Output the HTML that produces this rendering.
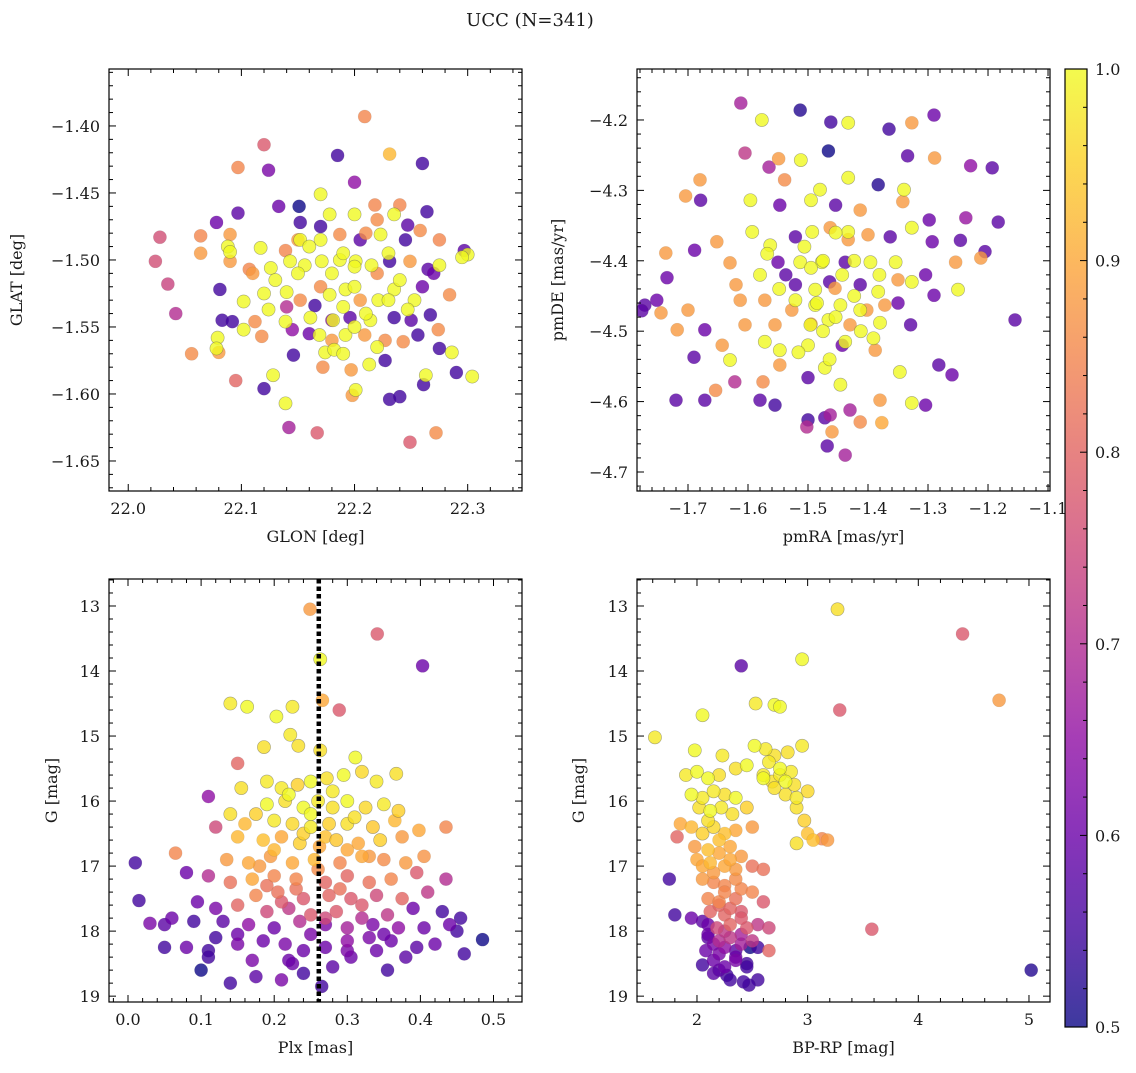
<!DOCTYPE html>
<html><head><meta charset="utf-8"><title>UCC (N=341)</title>
<style>
html,body{margin:0;padding:0;background:#fff;}
svg text{font-family:"DejaVu Serif","Liberation Serif",serif;fill:#1a1a1a;}
</style></head>
<body>
<svg id="chart" width="1136" height="1068" viewBox="0 0 1136 1068" xmlns="http://www.w3.org/2000/svg">
<text x="530" y="26" font-size="18" text-anchor="middle">UCC (N=341)</text>
</svg>
<script>
// ---------- Panel 1: GLON / GLAT ----------
const p1x=[22.209,22.12,22.231,22.097,22.124,22.185,22.26,22.2,22.17,22.151,22.133,22.264,22.097,22.078,22.152,22.178,22.2,22.218,22.24,22.235,22.247,22.09,22.064,22.028,22.088,22.064,22.09,22.117,22.139,22.152,22.17,22.187,22.205,22.223,22.245,22.258,22.275,22.297,22.3,22.295,22.024,22.035,22.042,22.09,22.107,22.126,22.143,22.156,22.171,22.187,22.201,22.215,22.231,22.249,22.265,22.275,22.284,22.081,22.102,22.124,22.14,22.152,22.165,22.178,22.192,22.205,22.221,22.235,22.253,22.247,22.267,22.083,22.092,22.112,22.139,22.161,22.181,22.196,22.214,22.235,22.256,22.274,22.102,22.118,22.145,22.169,22.192,22.209,22.227,22.079,22.078,22.08,22.056,22.095,22.12,22.128,22.146,22.174,22.182,22.172,22.197,22.213,22.227,22.243,22.275,22.286,22.263,22.29,22.304,22.139,22.142,22.167,22.198,22.201,22.231,22.24,22.261,22.272,22.249,
 22.16,22.18,22.2,22.22,22.19,22.21,22.17,22.23,22.15,22.2,22.18,22.22,22.16,22.24,22.19,22.21,22.17,22.13,22.26,22.14,22.2,22.18,22.23,22.25,22.12,22.15,22.19,22.22,22.27,22.11];
const p1y=[-1.393,-1.414,-1.421,-1.431,-1.433,-1.422,-1.428,-1.442,-1.451,-1.46,-1.46,-1.464,-1.465,-1.472,-1.472,-1.466,-1.466,-1.459,-1.459,-1.466,-1.474,-1.481,-1.482,-1.483,-1.49,-1.495,-1.494,-1.491,-1.493,-1.485,-1.485,-1.481,-1.485,-1.481,-1.485,-1.478,-1.485,-1.493,-1.496,-1.498,-1.501,-1.518,-1.54,-1.501,-1.507,-1.506,-1.501,-1.504,-1.501,-1.5,-1.501,-1.504,-1.501,-1.501,-1.507,-1.504,-1.526,-1.522,-1.531,-1.537,-1.524,-1.53,-1.534,-1.526,-1.522,-1.53,-1.53,-1.522,-1.53,-1.537,-1.541,-1.545,-1.546,-1.546,-1.546,-1.543,-1.545,-1.543,-1.545,-1.543,-1.556,-1.552,-1.552,-1.557,-1.552,-1.556,-1.556,-1.556,-1.56,-1.558,-1.566,-1.569,-1.57,-1.59,-1.596,-1.586,-1.571,-1.569,-1.567,-1.58,-1.582,-1.578,-1.575,-1.561,-1.566,-1.569,-1.586,-1.584,-1.587,-1.607,-1.625,-1.629,-1.601,-1.597,-1.604,-1.602,-1.593,-1.629,-1.636,
 -1.49,-1.51,-1.52,-1.51,-1.535,-1.54,-1.52,-1.53,-1.51,-1.55,-1.56,-1.565,-1.555,-1.515,-1.495,-1.48,-1.475,-1.515,-1.52,-1.535,-1.505,-1.545,-1.495,-1.545,-1.525,-1.485,-1.57,-1.47,-1.51,-1.51];
const p1c=[.85,.78,.92,.85,.62,.55,.55,.65,1,.5,.6,.55,.58,.6,.55,1,1,.85,.85,1,.58,.88,.85,.76,1,.88,1,1,.85,1,1,.86,.58,1,.55,.86,.85,.58,1,1,.76,.74,.7,.88,.85,1,1,1,1,1,1,1,.55,.88,.58,1,.86,.55,1,1,1,.86,.55,1,1,.88,1,1,1,1,.55,.55,.55,.86,1,1,1,.58,1,.55,.55,.86,1,.86,.65,1,1,.88,.86,1,1,.88,.86,.8,.55,1,.55,1,1,.86,.88,1,.55,.86,.55,1,1,.55,1,1,.68,.78,.88,1,.55,.55,.55,.86,.78,
 1,1,1,.86,1,1,.86,1,1,1,.88,1,.6,1,1,.86,.55,1,.6,.7,1,.65,1,.58,1,.88,1,.86,.6,.88];
// ---------- Panel 2: pmRA / pmDE ----------
const p2x=[-1.612,-1.577,-1.513,-1.462,-1.327,-1.290,-1.365,-1.433,-1.334,-1.289,-1.605,-1.466,-1.549,-1.512,-1.565,-1.229,-1.193,-1.539,-1.480,-1.433,-1.383,-1.340,-1.680,-1.704,-1.679,-1.596,-1.547,-1.495,-1.454,-1.413,-1.342,-1.298,-1.237,-1.183,-1.652,-1.593,-1.563,-1.521,-1.493,-1.463,-1.433,-1.400,-1.363,-1.327,-1.293,-1.246,-1.205,-1.737,-1.689,-1.630,-1.580,-1.550,-1.513,-1.477,-1.438,-1.396,-1.354,-1.304,-1.254,-1.212,-1.735,-1.620,-1.521,-1.488,-1.455,-1.413,-1.383,-1.350,-1.327,-1.250,-1.772,-1.752,-1.700,-1.613,-1.572,-1.521,-1.488,-1.446,-1.413,-1.372,-1.290,-1.155,-1.777,-1.745,-1.672,-1.605,-1.555,-1.496,-1.466,-1.430,-1.380,-1.329,-1.718,-1.690,-1.643,-1.572,-1.547,-1.500,-1.438,-1.388,-1.282,-1.260,-1.630,-1.547,-1.500,-1.472,-1.446,-1.347,-1.654,-1.575,-1.622,-1.672,-1.720,-1.580,-1.555,-1.380,-1.327,-1.304,-1.430,-1.500,-1.472,-1.502,-1.463,-1.460,-1.413,-1.468,-1.438,-1.377,
 -1.506,-1.475,-1.443,-1.423,-1.485,-1.454,-1.527,-1.412,-1.464,-1.495,-1.433,-1.548,-1.381,-1.475,-1.443,-1.516,-1.402,-1.568,-1.350,-1.454,-1.495,-1.423,-1.537,-1.464,-1.391];
const p2y=[-4.176,-4.2,-4.186,-4.203,-4.204,-4.193,-4.213,-4.204,-4.251,-4.254,-4.247,-4.244,-4.255,-4.257,-4.267,-4.265,-4.268,-4.285,-4.299,-4.282,-4.292,-4.299,-4.285,-4.308,-4.314,-4.314,-4.321,-4.314,-4.321,-4.328,-4.316,-4.342,-4.339,-4.345,-4.373,-4.359,-4.378,-4.366,-4.359,-4.353,-4.359,-4.363,-4.366,-4.353,-4.373,-4.371,-4.387,-4.389,-4.385,-4.403,-4.42,-4.402,-4.402,-4.402,-4.402,-4.402,-4.402,-4.42,-4.402,-4.396,-4.424,-4.434,-4.434,-4.441,-4.439,-4.434,-4.444,-4.427,-4.43,-4.441,-4.463,-4.456,-4.47,-4.456,-4.456,-4.456,-4.463,-4.463,-4.47,-4.463,-4.449,-4.484,-4.471,-4.474,-4.498,-4.491,-4.491,-4.491,-4.484,-4.491,-4.488,-4.491,-4.498,-4.537,-4.52,-4.515,-4.527,-4.52,-4.515,-4.527,-4.548,-4.562,-4.541,-4.548,-4.566,-4.552,-4.576,-4.558,-4.584,-4.572,-4.572,-4.598,-4.598,-4.598,-4.605,-4.598,-4.602,-4.605,-4.612,-4.626,-4.623,-4.636,-4.619,-4.643,-4.629,-4.663,-4.676,-4.63,
 -4.38,-4.4,-4.42,-4.45,-4.46,-4.48,-4.47,-4.5,-4.43,-4.41,-4.37,-4.44,-4.42,-4.5,-4.52,-4.53,-4.47,-4.39,-4.46,-4.36,-4.49,-4.4,-4.42,-4.54,-4.51];
const p2c=[.68,1,.52,.55,.88,.6,.55,1,.58,.88,.72,.5,.88,1,.68,.65,.58,.86,1,1,.52,1,.88,.88,.58,1,.6,1,.58,.88,.88,.6,.66,.58,.88,1,1,.58,1,.88,1,.88,.58,1,.6,.58,.58,.88,.6,.88,1,.6,1,1,.58,1,1,.6,.88,.88,.6,.88,.58,1,.88,.58,1,.88,1,1,.58,.6,.88,.88,.88,1,1,1,1,.88,.6,.58,.58,.88,.6,.88,.88,1,1,.88,1,.58,.88,.58,.88,1,1,1,1,.88,.58,.6,1,.88,.58,1,1,1,.86,.86,.7,.58,.58,.58,.55,.88,1,.6,.68,.55,.58,.7,.68,.88,.86,.58,.68,.9,
 1,1,1,1,1,1,.88,1,.58,1,.88,1,1,1,.6,1,.88,1,.6,1,.88,1,.58,1,1];
// ---------- Panel 3: Plx / G ----------
const p3x=[.249,.341,.403,.263,.266,.140,.163,.225,.203,.289,.150,.110,.222,.186,.233,.263,.311,.367,.190,.155,.210,.232,.250,.272,.295,.320,.340,.190,.215,.240,.260,.280,.300,.325,.350,.370,.140,.160,.175,.200,.225,.250,.275,.300,.335,.365,.398,.120,.150,.185,.210,.235,.262,.285,.315,.345,.375,.435,.065,.135,.165,.195,.225,.255,.290,.320,.350,.380,.405,.010,.080,.110,.140,.170,.200,.230,.270,.300,.330,.360,.395,.435,.175,.205,.240,.275,.305,.340,.375,.410,.015,.095,.120,.150,.190,.220,.250,.285,.320,.355,.390,.430,.455,.030,.060,.090,.130,.165,.200,.235,.270,.300,.335,.370,.405,.440,.485,.050,.080,.110,.150,.185,.215,.240,.270,.300,.330,.360,.395,.460,.110,.170,.225,.305,.355,.100,.175,.210,.140,.265,
 .22,.25,.28,.31,.24,.27,.2,.3,.33,.18,.26,.23,.29,.21,.32,.19,.27,.25,.35,.15,.3,.22,.28,.34,.24,.12,.38,.42,.05,.45];
const p3y=[13.05,13.43,13.92,13.82,14.45,14.5,14.55,14.55,14.7,14.6,15.42,15.93,14.98,15.17,15.15,15.22,15.33,15.58,15.7,15.8,15.8,15.75,15.7,15.65,15.6,15.55,15.7,16.05,16.0,16.1,16.0,16.1,16.0,16.1,16.05,16.15,16.2,16.35,16.2,16.3,16.35,16.4,16.35,16.35,16.4,16.3,16.45,16.4,16.55,16.6,16.55,16.65,16.7,16.6,16.65,16.6,16.55,16.4,16.8,16.9,16.95,16.85,16.95,16.9,16.95,16.85,16.9,16.95,16.85,16.95,17.1,17.15,17.25,17.2,17.15,17.2,17.25,17.15,17.25,17.2,17.1,17.2,17.45,17.4,17.5,17.45,17.5,17.45,17.5,17.4,17.53,17.55,17.65,17.6,17.7,17.65,17.75,17.7,17.8,17.75,17.65,17.7,17.8,17.88,17.8,17.85,17.85,17.9,17.95,17.85,17.9,17.95,17.9,17.95,17.95,17.9,18.13,18.25,18.25,18.3,18.2,18.15,18.2,18.3,18.25,18.15,18.1,18.15,18.25,18.35,18.4,18.45,18.5,18.4,18.6,18.6,18.7,18.75,18.8,18.85,
 15.9,16.2,15.85,16.25,16.5,16.55,16.75,16.75,16.85,17.0,17.05,17.35,17.35,17.55,17.6,17.3,17.8,18.05,18.05,18.05,18.3,18.45,18.55,18.3,18.65,18.1,18.4,18.2,17.9,18.0];
const p3c=[.88,.78,.6,1,.9,.98,1,.98,1,.78,.8,.65,.98,.97,.97,.97,1,.97,.98,.97,.98,.95,1,.97,1,.96,.98,1,.97,1,.98,.97,1,.96,.98,.95,.97,.92,.95,.98,.96,.98,.95,.97,.94,.92,.9,.75,.92,.93,.9,.95,.9,.94,.9,.95,.88,.85,.85,.88,.9,.88,.9,.92,.85,.9,.86,.88,.87,.55,.6,.7,.82,.9,.85,.85,.8,.8,.82,.85,.78,.7,.85,.82,.78,.8,.78,.75,.8,.72,.55,.6,.62,.8,.75,.72,.78,.78,.7,.72,.6,.55,.55,.62,.6,.55,.58,.65,.6,.7,.62,.68,.62,.65,.6,.6,.5,.55,.6,.55,.62,.6,.62,.6,.6,.65,.62,.6,.58,.55,.55,.62,.6,.6,.55,.5,.58,.62,.55,.55,
 1,1,.98,.97,.95,.93,.92,.9,.88,.88,.86,.82,.82,.78,.78,.82,.75,.62,.6,.6,.62,.6,.58,.6,.55,.55,.58,.6,.58,.55];
// ---------- Panel 4: BP-RP / G ----------
const p4x=[3.27,4.40,2.40,2.95,4.73,3.29,2.05,2.53,2.70,2.75,1.62,1.98,2.23,2.52,2.62,2.70,2.82,2.95,2.35,2.45,1.90,2.00,2.10,2.20,2.60,2.68,2.75,2.80,2.88,1.95,2.05,2.15,2.25,2.35,2.80,2.90,3.00,2.02,2.12,2.22,2.32,2.45,2.90,2.97,3.00,3.05,1.85,1.95,2.05,2.15,2.25,2.35,2.50,3.13,3.18,2.90,1.82,1.98,2.10,2.20,2.30,2.40,2.00,2.12,2.25,2.35,2.50,2.60,1.75,2.05,2.15,2.25,2.40,2.50,1.80,1.95,2.10,2.20,2.35,2.60,2.12,2.25,2.40,2.05,2.18,2.30,2.45,2.55,2.65,3.58,2.10,2.20,2.30,2.40,2.50,2.65,2.08,2.20,2.35,2.48,2.55,2.05,2.15,2.25,2.35,2.45,2.27,2.15,2.55,2.47,2.42,5.02,
 2.1,2.2,2.3,2.15,2.25,2.05,2.35,2.2,2.3,2.1,2.4,2.25,2.15,2.35,2.45,2.2,2.3,2.1,2.4,2.25,2.75,2.85,2.7,2.6,2.65];
const p4y=[13.05,13.43,13.92,13.82,14.45,14.6,14.68,14.5,14.52,14.55,15.02,15.22,15.3,15.15,15.2,15.3,15.25,15.15,15.5,15.45,15.6,15.55,15.65,15.6,15.6,15.7,15.6,15.7,15.75,15.9,15.95,15.85,15.9,15.95,15.9,15.95,15.85,16.1,16.15,16.1,16.2,16.1,16.1,16.3,16.5,16.6,16.35,16.4,16.5,16.4,16.5,16.45,16.4,16.58,16.6,16.65,16.55,16.7,16.75,16.8,16.7,16.85,16.9,16.95,17.0,17.05,17.0,17.05,17.2,17.2,17.25,17.3,17.35,17.4,17.75,17.8,17.5,17.55,17.5,17.55,17.7,17.75,17.7,17.85,17.95,17.9,17.95,17.9,17.95,17.97,18.05,18.15,18.1,18.2,18.15,18.3,18.3,18.35,18.3,18.25,18.25,18.52,18.45,18.55,18.45,18.5,18.68,18.65,18.75,18.83,18.78,18.6,
 16.3,16.6,16.9,17.1,17.4,17.0,17.2,17.6,17.65,17.9,17.8,18.0,18.2,18.4,18.55,18.6,18.75,18.1,18.05,18.25,15.5,15.55,15.8,15.65,15.4];
const p4c=[.97,.78,.58,1,.88,.78,1,.98,1,1,.98,1,.98,1,.98,.97,.97,.98,.97,1,.98,1,1,.97,.98,.97,.98,1,.97,1,.98,.98,.97,1,.97,.98,.96,.97,1,.98,.97,.95,.97,.95,.93,.93,.9,.92,.95,.96,.93,.9,.88,.85,.88,.97,.8,.88,.93,.9,.9,.88,.9,.92,.9,.88,.82,.82,.55,.88,.85,.85,.85,.85,.55,.6,.85,.85,.82,.78,.8,.8,.78,.58,.75,.8,.78,.72,.75,.78,.6,.7,.72,.68,.72,.8,.6,.62,.58,.5,.55,.55,.6,.6,.62,.55,.55,.58,.55,.55,.55,.52,
 .97,.93,.9,.88,.85,.9,.86,.8,.8,.6,.78,.72,.62,.6,.55,.58,.55,.58,.68,.65,1,.98,.97,1,.98];
// ---------- Colorbar ticks ----------
const cbTicks=[0.5,0.6,0.7,0.8,0.9,1.0];

const NS="http://www.w3.org/2000/svg";
const svg=document.getElementById('chart');
const plasma=[[13,8,135],[65,4,157],[106,0,168],[143,13,164],[177,42,144],[204,71,120],[225,100,98],[242,132,75],[252,166,54],[252,206,37],[240,249,33]];
function cmap(v){let t=Math.max(0,Math.min(1,(v-0.5)/0.5))*10;let i=Math.min(9,Math.floor(t));let f=t-i;const a=plasma[i],b=plasma[i+1];return 'rgb('+a.map((x,k)=>Math.round(x+(b[k]-x)*f)).join(',')+')';}
function el(tag,attrs,parent){const e=document.createElementNS(NS,tag);for(const k in attrs)e.setAttribute(k,attrs[k]);(parent||svg).appendChild(e);return e;}

function tickVals(a,b,step){const lo=Math.min(a,b),hi=Math.max(a,b);const out=[];const n0=Math.ceil(lo/step-1e-9),n1=Math.floor(hi/step+1e-9);for(let n=n0;n<=n1;n++)out.push(n*step);return out;}

function panel(cfg){
  const {L,T,R,B,xmin,xmax,ymin,ymax,xs,ys,cs,name}=cfg;
  const g=el('g',{});
  
  
  const sx=v=>L+(v-xmin)/(xmax-xmin)*(R-L);
  const sy=v=>T+(v-ymin)/(ymax-ymin)*(B-T);
  const clip='clip-'+name;
  const cp=el('clipPath',{id:clip},g);el('rect',{x:L,y:T,width:R-L,height:B-T},cp);
  const pts=el('g',{'clip-path':'url(#'+clip+')'},g);
  
  
  const order=xs.map((_,i)=>i).sort((a,b)=>cs[a]-cs[b]);
  order.forEach(i=>{
    const c=el('circle',{cx:sx(xs[i]),cy:sy(ys[i]),r:6.6,fill:cmap(cs[i]),'fill-opacity':0.8,stroke:'#555','stroke-opacity':cs[i]>0.93?0.5:0.15,'stroke-width':0.6},pts);
    
    
  });
  if(cfg.vline!==undefined){
    const v=el('line',{x1:sx(cfg.vline),x2:sx(cfg.vline),y1:T,y2:B,stroke:'#000','stroke-width':4.5,'stroke-dasharray':'4.5,3'},g);
    
    
  }
  el('rect',{x:L,y:T,width:R-L,height:B-T,fill:'none',stroke:'#000','stroke-width':1.2},g);
  const tk=el('g',{stroke:'#000','stroke-width':1},g);
  const isMaj=(v,m)=>Math.abs(v/m-Math.round(v/m))<1e-6;
  tickVals(xmin,xmax,cfg.xminor).forEach(v=>{const len=isMaj(v,cfg.xmajor)?7:4;const x=sx(v);
    el('line',{x1:x,x2:x,y1:B,y2:B-len},tk);el('line',{x1:x,x2:x,y1:T,y2:T+len},tk);});
  tickVals(ymin,ymax,cfg.yminor).forEach(v=>{const len=isMaj(v,cfg.ymajor)?7:4;const y=sy(v);
    el('line',{x1:L,x2:L+len,y1:y,y2:y},tk);el('line',{x1:R,x2:R-len,y1:y,y2:y},tk);});
  cfg.xticks.forEach(v=>{const t=el('text',{x:sx(v),y:B+23,'font-size':16,'text-anchor':'middle'},g);t.textContent=cfg.xfmt(v);
    });
  cfg.yticks.forEach(v=>{const t=el('text',{x:L-9,y:sy(v)+6,'font-size':16,'text-anchor':'end'},g);t.textContent=cfg.yfmt(v);
    });
  const xl=el('text',{x:(L+R)/2,y:B+51,'font-size':16,'text-anchor':'middle'},g);xl.textContent=cfg.xlabel;
  
  const yl=el('text',{x:0,y:0,'font-size':16,'text-anchor':'middle',transform:`translate(${cfg.ylx},${(T+B)/2}) rotate(-90)`},g);yl.textContent=cfg.ylabel;
  
}
const neg=s=>s.replace('-','\u2212');
panel({name:'panel-glon-glat',L:109,T:69,R:522,B:491,xmin:21.983,xmax:22.348,ymin:-1.3575,ymax:-1.6724,xs:p1x,ys:p1y,cs:p1c,
  xminor:0.02,xmajor:0.1,yminor:0.01,ymajor:0.05,xticks:[22.0,22.1,22.2,22.3],yticks:[-1.40,-1.45,-1.50,-1.55,-1.60,-1.65],
  xfmt:v=>v.toFixed(1),yfmt:v=>neg(v.toFixed(2)),xlabel:'GLON [deg]',ylabel:'GLAT [deg]',ylx:22});
panel({name:'panel-pm',L:637,T:69,R:1050,B:491,xmin:-1.785,xmax:-1.0967,ymin:-4.1276,ymax:-4.727,xs:p2x,ys:p2y,cs:p2c,
  xminor:0.02,xmajor:0.1,yminor:0.02,ymajor:0.1,xticks:[-1.7,-1.6,-1.5,-1.4,-1.3,-1.2,-1.1],yticks:[-4.2,-4.3,-4.4,-4.5,-4.6,-4.7],
  xfmt:v=>neg(v.toFixed(1)),yfmt:v=>neg(v.toFixed(1)),xlabel:'pmRA [mas/yr]',ylabel:'pmDE [mas/yr]',ylx:563});
panel({name:'panel-plx-g',L:109,T:579,R:522,B:1002,xmin:-0.026,xmax:0.539,ymin:12.585,ymax:19.09,xs:p3x,ys:p3y,cs:p3c,vline:0.261,
  xminor:0.02,xmajor:0.1,yminor:0.2,ymajor:1,xticks:[0,0.1,0.2,0.3,0.4,0.5],yticks:[13,14,15,16,17,18,19],
  xfmt:v=>v.toFixed(1),yfmt:v=>String(v),xlabel:'Plx [mas]',ylabel:'G [mag]',ylx:57});
panel({name:'panel-cmd',L:637,T:579,R:1050,B:1002,xmin:1.458,xmax:5.19,ymin:12.585,ymax:19.09,xs:p4x,ys:p4y,cs:p4c,
  xminor:0.2,xmajor:1,yminor:0.2,ymajor:1,xticks:[2,3,4,5],yticks:[13,14,15,16,17,18,19],
  xfmt:v=>String(v),yfmt:v=>String(v),xlabel:'BP-RP [mag]',ylabel:'G [mag]',ylx:584});

// colorbar
(function(){
  const L=1065,R=1087,T=69,B=1027;
  const g=el('g',{});
  
  
  const defs=el('defs',{},g);
  const lg=el('linearGradient',{id:'cbg',x1:0,y1:1,x2:0,y2:0},defs);
  for(let i=0;i<=20;i++){el('stop',{offset:i/20,'stop-color':cmap(0.5+i/40),'stop-opacity':0.8},lg);}
  el('rect',{x:L,y:T,width:R-L,height:B-T,fill:'url(#cbg)',stroke:'#000','stroke-width':1.2},g);
  const sy=v=>B-(v-0.5)/0.5*(B-T);
  tickVals(0.5,1.0,0.02).forEach(v=>{const maj=Math.abs(v*10-Math.round(v*10))<1e-6;el('line',{x1:R,x2:R-(maj?7:4),y1:sy(v),y2:sy(v),stroke:'#000'},g);});
  cbTicks.forEach(v=>{const t=el('text',{x:R+8,y:sy(v)+6,'font-size':16},g);t.textContent=v.toFixed(1);
    });
})();
</script>
</body></html>
